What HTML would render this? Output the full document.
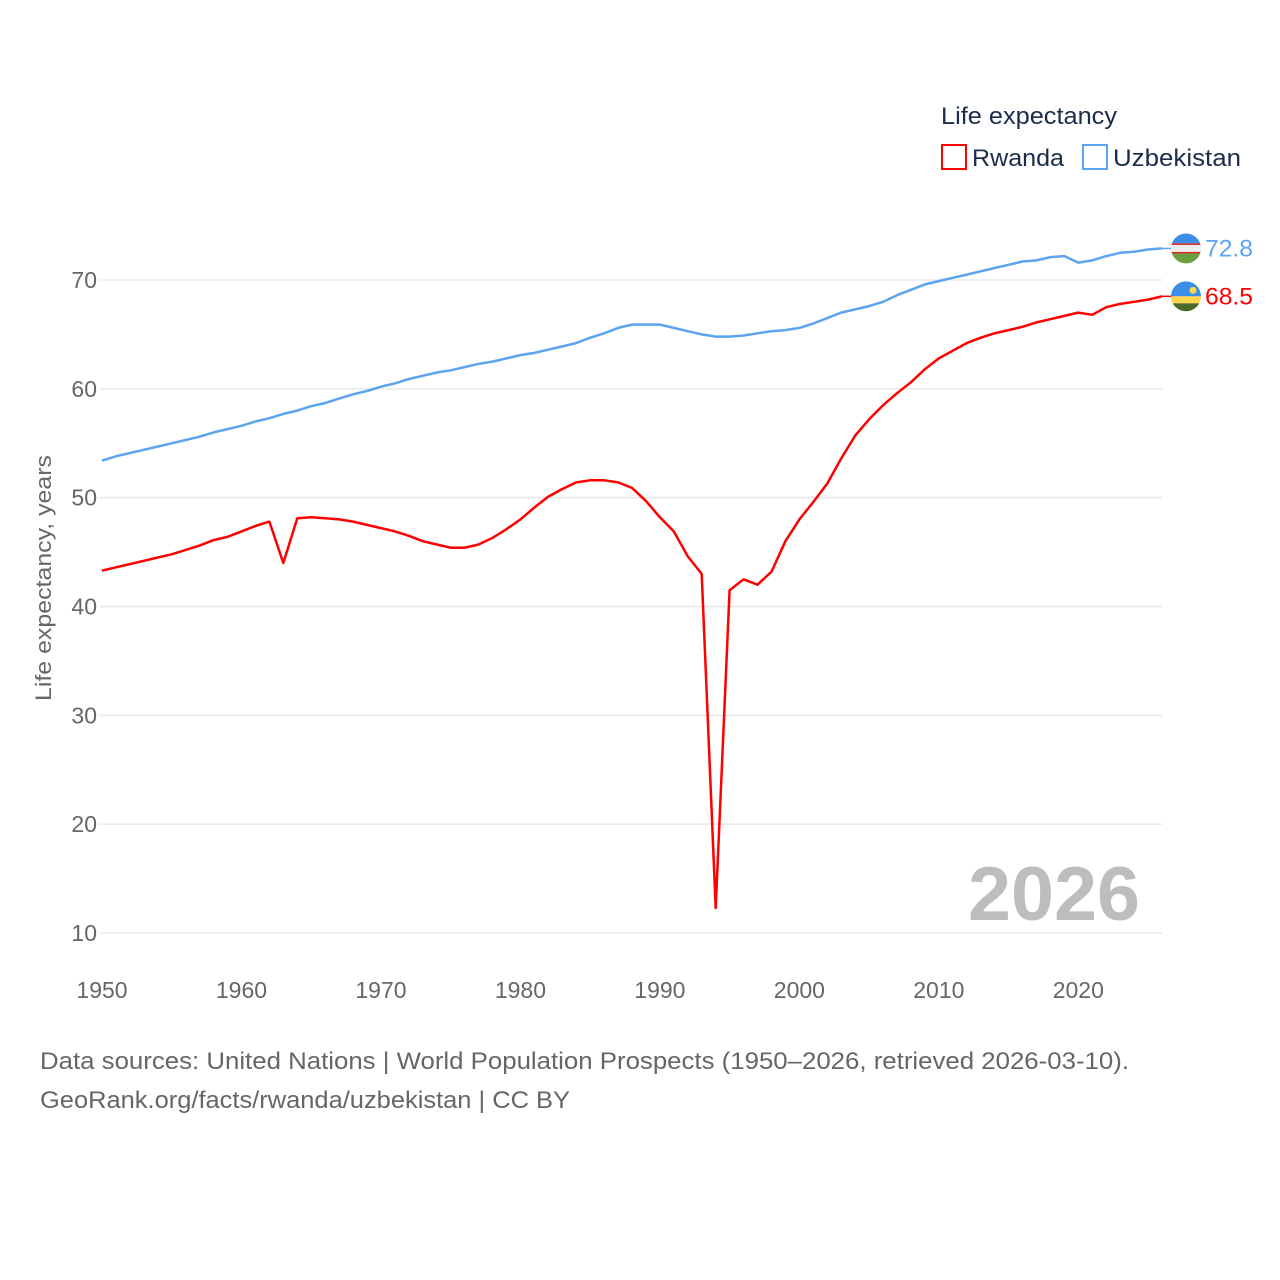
<!DOCTYPE html>
<html><head><meta charset="utf-8"><style>
html,body{margin:0;padding:0;background:#fff;}
svg{display:block;font-family:"Liberation Sans",sans-serif;}
</style></head><body>
<svg id="chart" width="1280" height="1280" viewBox="0 0 1280 1280" xmlns="http://www.w3.org/2000/svg">
<g id="grid"></g>
<g id="yticks"></g>
<g id="xticks"></g>
<text transform="translate(51,578) rotate(-90)" text-anchor="middle" font-size="22" fill="#666" textLength="246" lengthAdjust="spacingAndGlyphs">Life expectancy, years</text>
<text x="1140" y="920" text-anchor="end" font-size="76" font-weight="bold" fill="#bdbdbd" textLength="172" lengthAdjust="spacingAndGlyphs">2026</text>
<g id="series"></g>
<g>
<text x="941" y="124" font-size="24" fill="#1b2c4c" textLength="176" lengthAdjust="spacingAndGlyphs">Life expectancy</text>
<g>
<rect x="942" y="145" width="24" height="24" fill="none" stroke="#ff0000" stroke-width="2"/>
<text x="972" y="166" font-size="24" fill="#1b2c4c" textLength="92" lengthAdjust="spacingAndGlyphs">Rwanda</text>
</g>
<g>
<rect x="1083" y="145" width="24" height="24" fill="none" stroke="#5ba4ee" stroke-width="2"/>
<text x="1113" y="166" font-size="24" fill="#1b2c4c" textLength="128" lengthAdjust="spacingAndGlyphs">Uzbekistan</text>
</g>
</g>
<text x="40" y="1069" font-size="24" fill="#666" textLength="1089" lengthAdjust="spacingAndGlyphs">Data sources: United Nations | World Population Prospects (1950–2026, retrieved 2026-03-10).</text>
<text x="40" y="1108" font-size="24" fill="#666" textLength="530" lengthAdjust="spacingAndGlyphs">GeoRank.org/facts/rwanda/uzbekistan | CC BY</text>
</svg>
<script>
const years = [];
for (let y = 1950; y <= 2026; y++) years.push(y);
const rwanda = [43.3,43.6,43.9,44.2,44.5,44.8,45.2,45.6,46.1,46.4,46.9,47.4,47.8,44.0,48.1,48.2,48.1,48.0,47.8,47.5,47.2,46.9,46.5,46.0,45.7,45.4,45.4,45.7,46.3,47.1,48.0,49.1,50.1,50.8,51.4,51.6,51.6,51.4,50.9,49.7,48.2,46.9,44.6,43.0,12.3,41.5,42.5,42.0,43.2,46.0,48.0,49.6,51.3,53.6,55.7,57.2,58.5,59.6,60.6,61.8,62.8,63.5,64.2,64.7,65.1,65.4,65.7,66.1,66.4,66.7,67.0,66.8,67.5,67.8,68.0,68.2,68.5];
const uzbekistan = [53.4,53.8,54.1,54.4,54.7,55.0,55.3,55.6,56.0,56.3,56.6,57.0,57.3,57.7,58.0,58.4,58.7,59.1,59.5,59.8,60.2,60.5,60.9,61.2,61.5,61.7,62.0,62.3,62.5,62.8,63.1,63.3,63.6,63.9,64.2,64.7,65.1,65.6,65.9,65.9,65.9,65.6,65.3,65.0,64.8,64.8,64.9,65.1,65.3,65.4,65.6,66.0,66.5,67.0,67.3,67.6,68.0,68.6,69.1,69.6,69.9,70.2,70.5,70.8,71.1,71.4,71.7,71.8,72.1,72.2,71.6,71.8,72.2,72.5,72.6,72.8,72.9];
const yTicks = [10,20,30,40,50,60,70];
const xTicks = [1950,1960,1970,1980,1990,2000,2010,2020];
const endLabels = ["68.5","72.8"];

const NS = "http://www.w3.org/2000/svg";
const X0 = 102, X1 = 1162, Y10 = 933, Y70 = 280;
const xs = y => X0 + (y - 1950) * (X1 - X0) / 76;
const ys = v => Y10 - (v - 10) * (Y10 - Y70) / 60;
function mk(tag, attrs, parent) {
  const e = document.createElementNS(NS, tag);
  for (const k in attrs) e.setAttribute(k, attrs[k]);
  parent.appendChild(e);
  return e;
}
const grid = document.getElementById('grid');
const yt = document.getElementById('yticks');
const xt = document.getElementById('xticks');
yTicks.forEach(v => {
  const l = mk('line', {x1: 100, x2: X1, y1: ys(v), y2: ys(v), stroke: '#e8e8e8', 'stroke-width': 1.5}, grid);
  
  
  const t = mk('text', {x: 97, y: ys(v) + 8, 'text-anchor': 'end', 'font-size': 23, fill: '#666'}, yt);
  
  
  t.textContent = v;
});
xTicks.forEach(v => {
  const t = mk('text', {x: xs(v), y: 998, 'text-anchor': 'middle', 'font-size': 23, fill: '#666'}, xt);
  
  
  t.textContent = v;
});
const ser = document.getElementById('series');
function line(data, color, name) {
  const d = data.map((v, i) => (i ? 'L' : 'M') + xs(years[i]).toFixed(1) + ',' + ys(v).toFixed(1)).join('');
  const p = mk('path', {d: d, fill: 'none', stroke: color, 'stroke-width': 2.5, 'stroke-linejoin': 'round'}, ser);
  
  
}
line(uzbekistan, '#5ba4ee', 'uzbekistan-line');
line(rwanda, '#ff0000', 'rwanda-line');

function endMarker(data, color, label, name, flag) {
  const v = data[data.length - 1];
  const y = ys(v);
  const g = mk('g', {}, ser);
  
  
  mk('line', {x1: X1, x2: 1172, y1: y, y2: y, stroke: color, 'stroke-width': 1.5}, g);
  const cx = 1186, r = 15;
  const cid = name + '-clip';
  const cp = mk('clipPath', {id: cid}, g);
  mk('circle', {cx: cx, cy: y, r: r}, cp);
  const fg = mk('g', {'clip-path': 'url(#' + cid + ')'}, g);
  
  
  if (flag === 'uz') {
    mk('rect', {x: cx - r, y: y - r, width: 2 * r, height: 10, fill: '#3a8ee8'}, fg);
    mk('rect', {x: cx - r, y: y - 5, width: 2 * r, height: 10, fill: '#eee'}, fg);
    mk('rect', {x: cx - r, y: y - 5, width: 2 * r, height: 1.5, fill: '#d22'}, fg);
    mk('rect', {x: cx - r, y: y + 3.5, width: 2 * r, height: 1.5, fill: '#d22'}, fg);
    mk('rect', {x: cx - r, y: y + 5, width: 2 * r, height: 10, fill: '#6aa040'}, fg);
  } else {
    mk('rect', {x: cx - r, y: y - r, width: 2 * r, height: 15, fill: '#3a8ee8'}, fg);
    mk('rect', {x: cx - r, y: y, width: 2 * r, height: 7, fill: '#ffd54a'}, fg);
    mk('rect', {x: cx - r, y: y + 7, width: 2 * r, height: 8, fill: '#4a6a2a'}, fg);
    mk('circle', {cx: cx + 7, cy: y - 6, r: 3.5, fill: '#ffd54a'}, fg);
  }
  const t = mk('text', {x: 1205, y: y + 8, 'font-size': 24, fill: color, textLength: 48, lengthAdjust: 'spacingAndGlyphs'}, g);
  
  
  t.textContent = label;
}
endMarker(uzbekistan, '#5ba4ee', endLabels[1], 'uzbekistan-end', 'uz');
endMarker(rwanda, '#ff0000', endLabels[0], 'rwanda-end', 'rw');
</script>
</body></html>
